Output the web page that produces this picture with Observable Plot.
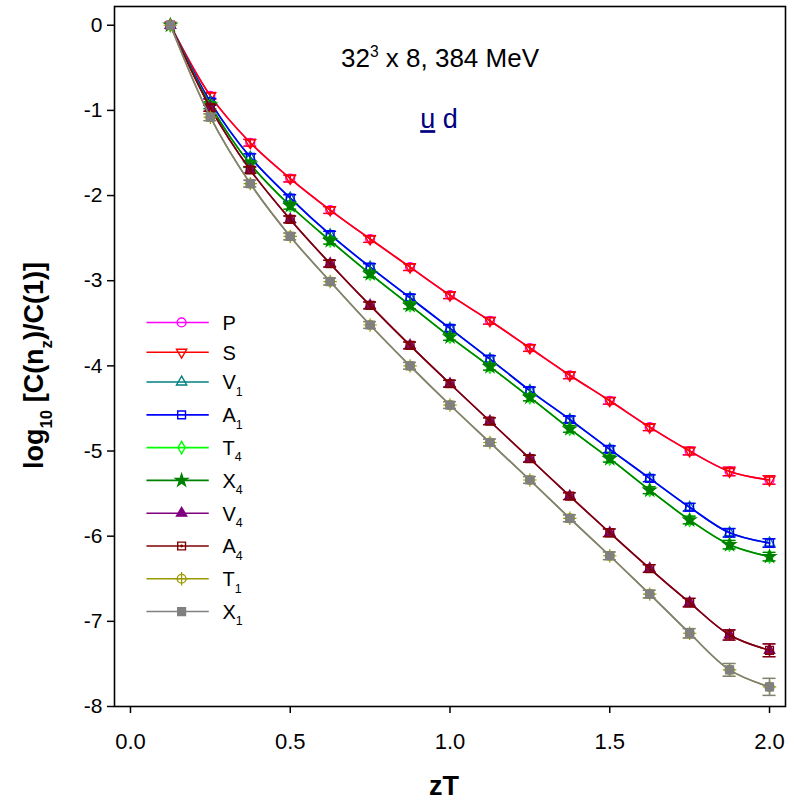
<!DOCTYPE html>
<html><head><meta charset="utf-8">
<script src="https://cdn.jsdelivr.net/npm/d3@7"></script>
<script src="https://cdn.jsdelivr.net/npm/@observablehq/plot@0.6"></script>
<style>body{margin:0;background:#fff}#chart{width:794px;height:803px}</style>
</head><body><div id="chart"></div>
<script>
// ---- data ----
const zT = [0.125,0.25,0.375,0.5,0.625,0.75,0.875,1.0,1.125,1.25,1.375,1.5,1.625,1.75,1.875,2.0];
const valP  = [0,-0.83,-1.38,-1.80,-2.17,-2.51,-2.84,-3.17,-3.47,-3.79,-4.11,-4.41,-4.72,-5.00,-5.24,-5.34];
const valS  = [0,-0.83,-1.38,-1.80,-2.17,-2.51,-2.84,-3.17,-3.47,-3.79,-4.11,-4.41,-4.72,-5.00,-5.24,-5.34];
const valV1 = [0,-0.90,-1.55,-2.03,-2.46,-2.84,-3.20,-3.56,-3.92,-4.29,-4.63,-4.98,-5.32,-5.66,-5.96,-6.08];
const valA1 = [0,-0.90,-1.55,-2.03,-2.46,-2.84,-3.20,-3.56,-3.92,-4.29,-4.63,-4.98,-5.32,-5.66,-5.96,-6.08];
const valT4 = [0,-0.94,-1.63,-2.12,-2.53,-2.92,-3.29,-3.66,-4.01,-4.37,-4.74,-5.09,-5.46,-5.81,-6.10,-6.24];
const valX4 = [0,-0.94,-1.63,-2.12,-2.53,-2.92,-3.29,-3.66,-4.01,-4.37,-4.74,-5.09,-5.46,-5.81,-6.10,-6.24];
const valV4 = [0,-0.97,-1.70,-2.28,-2.80,-3.29,-3.76,-4.21,-4.65,-5.09,-5.53,-5.96,-6.38,-6.78,-7.16,-7.34];
const valA4 = [0,-0.97,-1.70,-2.28,-2.80,-3.29,-3.76,-4.21,-4.65,-5.09,-5.53,-5.96,-6.38,-6.78,-7.16,-7.34];
const valT1 = [0,-1.08,-1.86,-2.48,-3.01,-3.52,-4.00,-4.46,-4.90,-5.34,-5.79,-6.23,-6.68,-7.14,-7.57,-7.77];
const valX1 = [0,-1.08,-1.86,-2.48,-3.01,-3.52,-4.00,-4.46,-4.90,-5.34,-5.79,-6.23,-6.68,-7.14,-7.57,-7.77];
const errSmall  = [0,0.04,0.04,0.04,0.04,0.04,0.04,0.04,0.04,0.04,0.04,0.04,0.04,0.045,0.05,0.05];
const errMaroon = [0,0.04,0.04,0.04,0.04,0.04,0.04,0.04,0.04,0.04,0.04,0.045,0.045,0.05,0.06,0.075];
const errGray   = [0,0.04,0.04,0.04,0.04,0.04,0.04,0.04,0.04,0.04,0.04,0.045,0.045,0.055,0.075,0.10];
const seriesNames = ["P","S","V_{1}","A_{1}","T_{4}","X_{4}","V_{4}","A_{4}","T_{1}","X_{1}"];
const xTicks = [0,0.5,1,1.5,2];
const yTicks = [0,-1,-2,-3,-4,-5,-6,-7,-8];
const titleText = "32^{3} x 8, 384 MeV";
const flavourText = "~{u} d";
const xLabel = "zT";
const yLabel = "log_{10} [C(n_{z})/C(1)]";

// ---- styles ----
const series = [
  {name:seriesNames[0], v:valP,  e:errSmall,  color:"#ff00ff", symbol:"circle",   fill:"none"},
  {name:seriesNames[1], v:valS,  e:errSmall,  color:"#ff0000", symbol:"triangle", fill:"none", rotate:180},
  {name:seriesNames[2], v:valV1, e:errSmall,  color:"#008080", symbol:"triangle", fill:"none"},
  {name:seriesNames[3], v:valA1, e:errSmall,  color:"#0000ff", symbol:"square",   fill:"none"},
  {name:seriesNames[4], v:valT4, e:errSmall,  color:"#00ff00", symbol:"diamond",  fill:"none"},
  {name:seriesNames[5], v:valX4, e:errSmall,  color:"#008000", symbol:"star",     fill:"#008000"},
  {name:seriesNames[6], v:valV4, e:errMaroon, color:"#800080", symbol:"triangle", fill:"#800080"},
  {name:seriesNames[7], v:valA4, e:errMaroon, color:"#800000", symbol:"square",   fill:"none", inner:"dot"},
  {name:seriesNames[8], v:valT1, e:errGray,   color:"#999900", symbol:"circle",   fill:"none", inner:"plus"},
  {name:seriesNames[9], v:valX1, e:errGray,   color:"#808080", symbol:"square",   fill:"#808080"}
];

const CAP = 0.02;
function symbolMarks(data, s, xf, yf) {
  const r = s.symbol === "circle" || s.symbol === "square" ? 4.4 : 3.8;
  const m = [Plot.dot(data, {x:xf, y:yf, r, symbol:s.symbol, stroke:s.color, fill:s.fill === "none" ? "white" : s.fill, fillOpacity: s.fill === "none" ? 0 : 1, strokeWidth:1.4, rotate:s.rotate || 0})];
  if (s.inner === "dot") m.push(Plot.dot(data, {x:xf, y:yf, r:1.4, fill:s.color}));
  if (s.inner === "plus") m.push(Plot.dot(data, {x:xf, y:yf, r:4.4, symbol:"plus", stroke:s.color, strokeWidth:1.2}));
  return m;
}

const marks = [];
for (const s of series) {
  const rows = zT.map((x, i) => ({x, v:s.v[i], e:s.e[i]}));
  const errRows = rows.filter(d => d.e > 0);
  marks.push(Plot.line(rows, {x:"x", y:"v", stroke:s.color, strokeWidth:1.6, curve:"catmull-rom"}));
  marks.push(Plot.ruleX(errRows, {x:"x", y1:d => d.v - d.e, y2:d => d.v + d.e, stroke:s.color, strokeWidth:1.3}));
  marks.push(Plot.ruleY(errRows, {y:d => d.v + d.e, x1:d => d.x - CAP, x2:d => d.x + CAP, stroke:s.color, strokeWidth:1.3}));
  marks.push(Plot.ruleY(errRows, {y:d => d.v - d.e, x1:d => d.x - CAP, x2:d => d.x + CAP, stroke:s.color, strokeWidth:1.3}));
  marks.push(...symbolMarks(rows, s, "x", "v"));
}

// legend (inside plot, lower left), positioned in data units
let ly = -3.49;
const legendRows = series.map(s => {
  const row = {s, y: ly};
  ly -= s.name.includes("_") ? 0.385 : 0.35;
  return row;
});
for (const row of legendRows) {
  const s = row.s;
  marks.push(Plot.link([row], {x1:() => 0.05, x2:() => 0.245, y1:"y", y2:"y", stroke:s.color, strokeWidth:1.6}));
  marks.push(...symbolMarks([row], s, () => 0.16, "y"));
  marks.push(Plot.text([row], {x:() => 0.288, y:"y", text:d => d.s.name, textAnchor:"start", fontSize:20, dy:1}));
}

const chart = Plot.plot({
  width:794, height:803,
  marginLeft:114, marginRight:9, marginTop:6, marginBottom:97,
  x:{domain:[-0.05,2.05]},
  y:{domain:[-8,0.22]},
  style:{fontFamily:"'Liberation Sans', Arial, sans-serif", fontSize:"20px", color:"#000", background:"#fff"},
  marks:[
    Plot.axisX({ticks:xTicks, tickFormat:d3.format(".1f"), tickSize:7, tickPadding:20, label:null, fontSize:22, strokeWidth:1.5}),
    Plot.axisY({ticks:yTicks, tickFormat:d => String(d), tickSize:7, tickPadding:5, label:null, fontSize:21, strokeWidth:1.5}),
    ...marks,
    Plot.frame({stroke:"#000", strokeWidth:1.6}),
    Plot.text([titleText], {frameAnchor:"top", dx:-10, dy:52, fontSize:26, lineAnchor:"middle"}),
    Plot.text([flavourText], {frameAnchor:"top", dx:-11, dy:113, fontSize:27, lineAnchor:"middle", fill:"#000080"}),
    Plot.text([xLabel], {frameAnchor:"bottom", dx:-6, dy:80, fontSize:27, fontWeight:"bold", lineAnchor:"middle", textAnchor:"middle"}),
    Plot.text([yLabel], {frameAnchor:"left", dx:-80, dy:9, fontSize:27, fontWeight:"bold", rotate:-90, lineAnchor:"middle", textAnchor:"middle"})
  ]
});
document.getElementById("chart").appendChild(chart);

// rich text: _{sub}, ^{sup}, ~{underline}
d3.select(chart).selectAll("text").each(function() {
  const t = this.textContent;
  if (!/[_^~]\{/.test(t)) return;
  const fs = parseFloat(getComputedStyle(this).fontSize) || 17;
  const parts = t.split(/([_^~]\{[^}]*\})/).filter(p => p.length);
  const el = d3.select(this);
  el.text(null);
  let shift = 0;
  for (const p of parts) {
    const ts = el.append("tspan");
    if (p.startsWith("_{")) {
      ts.text(p.slice(2, -1)).attr("font-size", fs * 0.62).attr("dy", fs * 0.32 - shift);
      shift = fs * 0.32;
    } else if (p.startsWith("^{")) {
      ts.text(p.slice(2, -1)).attr("font-size", fs * 0.6).attr("dy", -fs * 0.38 - shift);
      shift = -fs * 0.38;
    } else if (p.startsWith("~{")) {
      ts.text(p.slice(2, -1)).attr("dy", -shift).style("text-decoration", "underline").style("text-decoration-thickness", "3px").style("text-underline-offset", "3px");
      shift = 0;
    } else {
      ts.text(p).attr("dy", -shift);
      shift = 0;
    }
  }
});
</script></body></html>
